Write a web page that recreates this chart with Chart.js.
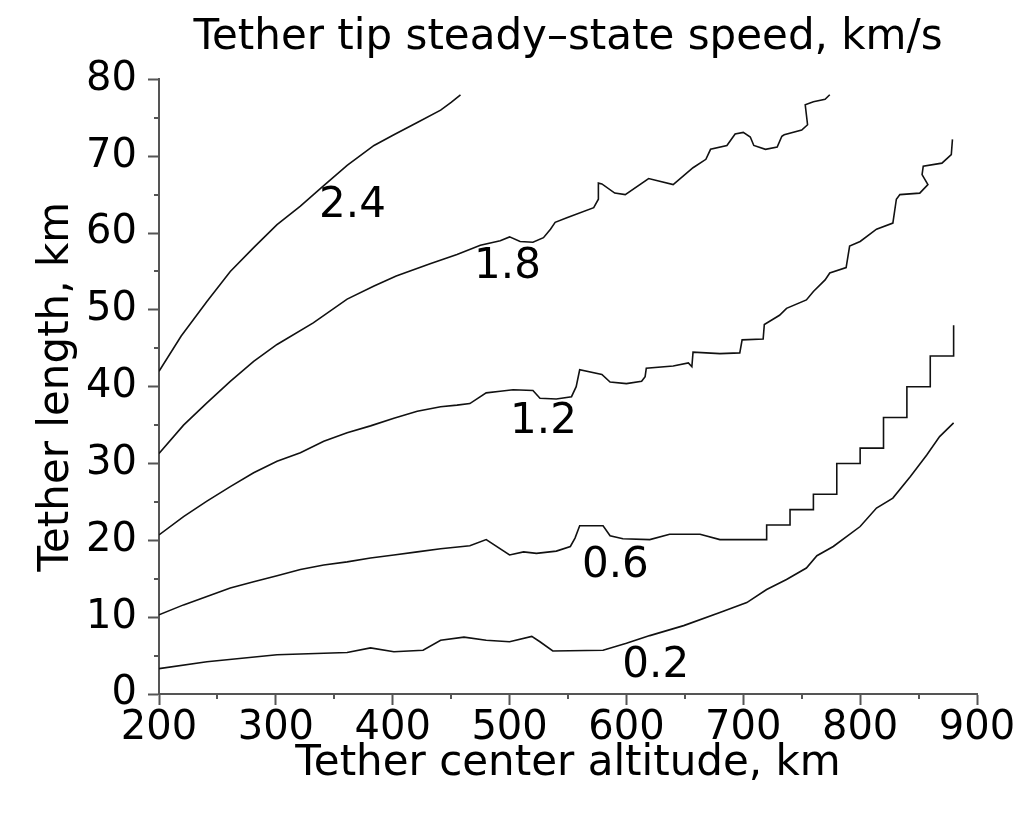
<!DOCTYPE html>
<html>
<head>
<meta charset="utf-8">
<script src="https://cdn.jsdelivr.net/npm/chart.js@4.4.1/dist/chart.umd.min.js"></script>
<style>
  html, body { margin: 0; padding: 0; background: #fff; }
  #wrap { width: 1024px; height: 813px; }
</style>
</head>
<body>
<div id="wrap"><canvas id="tetherChart"></canvas></div>
<script>
// tick values
const xTicks = [200, 300, 400, 500, 600, 700, 800, 900];
const yTicks = [0, 10, 20, 30, 40, 50, 60, 70, 80];

// contour 2.4 km/s
const alt24 = [200, 219, 241, 261, 281, 301, 321, 339, 361, 384, 401, 421, 441, 450, 458];
const len24 = [42.0, 46.6, 51.1, 55.0, 58.1, 61.1, 63.5, 65.9, 68.8, 71.4, 72.8, 74.4, 76.0, 77.0, 78.0];

// contour 1.8 km/s
const alt18 = [200, 221, 241, 261, 281, 301, 332, 361, 384, 403, 432, 455, 475, 492, 500, 509, 520, 529, 535, 539,
  549, 572, 576, 576, 579, 590, 599, 619, 640, 657, 668, 672, 686, 693, 700, 706, 709, 719, 729, 733,
  735, 750, 755, 753, 760, 770, 774];
const len18 = [31.3, 35.0, 37.9, 40.7, 43.3, 45.5, 48.3, 51.4, 53.1, 54.4, 56.0, 57.2, 58.4, 59.0, 59.5, 58.9, 58.8, 59.4, 60.5, 61.4,
  62.0, 63.3, 64.4, 66.5, 66.4, 65.2, 65.0, 67.1, 66.3, 68.5, 69.6, 70.9, 71.4, 72.9, 73.1, 72.5, 71.4, 70.9, 71.2, 72.6,
  72.8, 73.4, 74.1, 76.7, 77.1, 77.4, 78.0];

// contour 1.2 km/s
const alt12 = [200, 221, 241, 261, 281, 301, 321, 341, 361, 381, 401, 421, 441, 455, 466, 480, 492, 503, 520, 526,
  540, 553, 557, 560, 579, 586, 600, 613, 616, 617, 640, 653, 656, 657, 680, 697, 699, 717, 718, 731,
  737, 754, 760, 770, 774, 788, 791, 800, 814, 828, 831, 834, 851, 858, 853, 854, 870, 878, 879];
const len12 = [20.7, 23.1, 25.1, 27.0, 28.8, 30.3, 31.4, 32.9, 34.0, 34.9, 35.9, 36.8, 37.4, 37.6, 37.8, 39.2, 39.4, 39.6, 39.5, 38.5,
  38.4, 38.7, 40.0, 42.2, 41.6, 40.6, 40.4, 40.7, 41.3, 42.4, 42.7, 43.1, 42.6, 44.5, 44.3, 44.4, 46.1, 46.2, 48.1, 49.3,
  50.2, 51.3, 52.4, 53.9, 54.8, 55.5, 58.3, 58.9, 60.5, 61.3, 64.4, 65.0, 65.2, 66.3, 67.6, 68.7, 69.1, 70.2, 72.2];

// contour 0.6 km/s
const alt06 = [200, 221, 241, 261, 281, 301, 321, 341, 361, 381, 401, 421, 441, 466, 480, 500, 512, 523, 540, 552,
  556, 560, 580, 586, 597, 620, 637, 663, 680, 720, 720, 740, 740, 760, 760, 780, 780, 800, 800, 820,
  820, 840, 840, 860, 860, 880, 880];
const len06 = [10.3, 11.6, 12.7, 13.8, 14.6, 15.4, 16.2, 16.8, 17.2, 17.7, 18.1, 18.5, 18.9, 19.3, 20.1, 18.1, 18.5, 18.3, 18.6, 19.2,
  20.3, 21.9, 21.9, 20.6, 20.2, 20.1, 20.8, 20.8, 20.1, 20.1, 22, 22, 24, 24, 26, 26, 30, 30, 32, 32,
  36, 36, 40, 40, 44, 44, 48];

// contour 0.2 km/s
const alt02 = [200, 241, 301, 361, 381, 401, 426, 441, 461, 480, 500, 519, 526, 537, 580, 600, 620, 649, 680, 703,
  720, 737, 754, 763, 777, 800, 814, 828, 843, 857, 868, 880];
const len02 = [3.3, 4.2, 5.1, 5.4, 6.0, 5.5, 5.7, 7.0, 7.4, 7.0, 6.8, 7.5, 6.8, 5.6, 5.7, 6.6, 7.6, 8.9, 10.6, 11.9,
  13.6, 14.9, 16.4, 18.0, 19.2, 21.8, 24.2, 25.5, 28.3, 31.1, 33.5, 35.3];

// contour labels (speed, altitude, length)
const speedNames = ['2.4', '1.8', '1.2', '0.6', '0.2'];
const nameAlt = [365.6, 498.2, 529.0, 590.5, 625.1];
const nameLen = [63.8, 55.8, 35.6, 16.9, 3.9];

function pts(xs, ys) {
  return xs.map(function (x, i) { return { x: x, y: ys[i] }; });
}

const curves = [
  pts(alt24, len24), pts(alt18, len18), pts(alt12, len12), pts(alt06, len06), pts(alt02, len02)
];

const FONT = 'DejaVu Sans';
const AXIS = '#555';

// minor ticks + contour labels
const extras = {
  id: 'extras',
  afterDraw: function (chart) {
    const ctx = chart.ctx;
    const xs = chart.scales.x, ys = chart.scales.y;
    const area = chart.chartArea;
    ctx.save();
    ctx.strokeStyle = AXIS;
    ctx.lineWidth = 2;
    ctx.beginPath();
    for (let v = 250; v < 900; v += 100) {
      const px = Math.round(xs.getPixelForValue(v));
      ctx.moveTo(px, area.bottom);
      ctx.lineTo(px, area.bottom + 5);
    }
    for (let v = 5; v < 80; v += 10) {
      const py = Math.round(ys.getPixelForValue(v));
      ctx.moveTo(area.left, py);
      ctx.lineTo(area.left - 5, py);
    }
    ctx.stroke();

    ctx.fillStyle = '#000';
    ctx.font = '42px "' + FONT + '"';
    ctx.textAlign = 'center';
    ctx.textBaseline = 'middle';
    speedNames.forEach(function (t, i) {
      ctx.fillText(t, xs.getPixelForValue(nameAlt[i]), ys.getPixelForValue(nameLen[i]) + 2);
    });
    ctx.restore();
  }
};

const config = {
  type: 'line',
  data: {
    datasets: curves.map(function (c, i) {
      return {
        label: speedNames[i],
        data: c,
        borderColor: '#111',
        borderWidth: 1.6,
        pointRadius: 0,
        tension: 0,
        fill: false
      };
    })
  },
  options: {
    responsive: true,
    maintainAspectRatio: false,
    animation: false,
    parsing: false,
    layout: {
      padding: { left: 0, right: 47, top: 0, bottom: 0 }
    },
    scales: {
      x: {
        type: 'linear',
        position: 'bottom',
        min: 200,
        max: 900,
        afterBuildTicks: function (scale) {
          scale.ticks = xTicks.map(function (v) { return { value: v }; });
        },
        afterFit: function (scale) {
          scale.height = 119;
          scale.paddingLeft = 0;
          scale.paddingRight = 0;
        },
        ticks: {
          color: '#000',
          font: { family: FONT, size: 40 },
          padding: 0,
          maxRotation: 0,
          autoSkip: false
        },
        grid: {
          display: true,
          drawOnChartArea: false,
          drawTicks: true,
          tickLength: 11,
          tickColor: AXIS,
          tickWidth: 2
        },
        border: { display: true, color: AXIS, width: 2 },
        title: {
          display: true,
          text: 'Tether center altitude, km',
          color: '#000',
          font: { family: FONT, size: 42 },
          padding: { top: 0, bottom: 24 }
        }
      },
      y: {
        type: 'linear',
        position: 'left',
        min: 0,
        max: 80,
        afterBuildTicks: function (scale) {
          scale.ticks = yTicks.map(function (v) { return { value: v }; });
        },
        afterFit: function (scale) {
          scale.width = 159;
          scale.paddingTop = 0;
          scale.paddingBottom = 0;
        },
        ticks: {
          color: '#000',
          font: { family: FONT, size: 40 },
          padding: 11,
          autoSkip: false
        },
        grid: {
          display: true,
          drawOnChartArea: false,
          drawTicks: true,
          tickLength: 11,
          tickColor: AXIS,
          tickWidth: 2
        },
        border: { display: true, color: AXIS, width: 2 },
        title: {
          display: true,
          text: 'Tether length, km',
          color: '#000',
          font: { family: FONT, size: 42 },
          padding: { top: 32, bottom: 0 }
        }
      }
    },
    plugins: {
      legend: { display: false },
      tooltip: { enabled: false },
      title: {
        display: true,
        fullSize: false,
        text: 'Tether tip steady–state speed, km/s',
        color: '#000',
        font: { family: FONT, size: 42, weight: 'normal' },
        padding: { top: 13, bottom: 16 }
      }
    }
  },
  plugins: [extras]
};

new Chart(document.getElementById('tetherChart'), config);
</script>
</body>
</html>
